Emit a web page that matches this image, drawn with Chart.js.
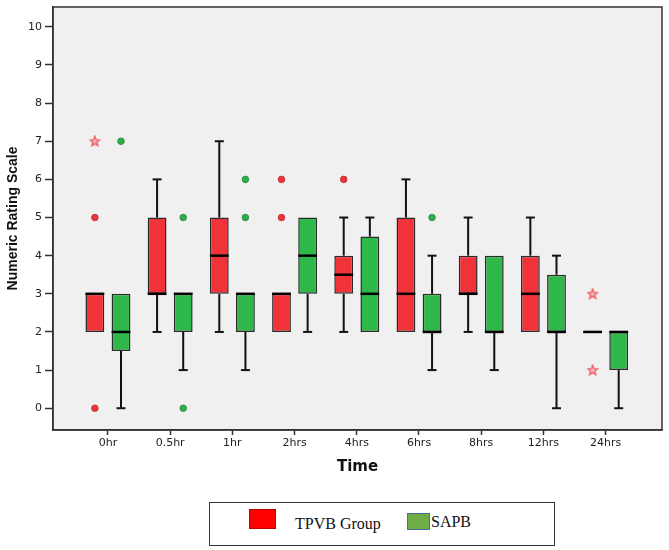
<!DOCTYPE html>
<html>
<head>
<meta charset="utf-8">
<script src="https://cdn.jsdelivr.net/npm/chart.js@4.4.1/dist/chart.umd.min.js"></script>
<style>
  html, body { margin: 0; padding: 0; background: #ffffff; }
  #wrap { position: relative; width: 669px; height: 550px; }
  #c { position: absolute; left: 0; top: 0; }
  #legend { position: absolute; left: 209px; top: 502px; width: 346px; height: 44px; border: 1px solid #333; box-sizing: border-box; font-family: "Liberation Serif", "Times New Roman", serif; font-size: 16px; color: #111; }
  .sw { position: absolute; box-sizing: border-box; }
  .lt { position: absolute; white-space: nowrap; line-height: 20px; }
</style>
</head>
<body>
<div id="wrap">
  <canvas id="c" width="669" height="495"></canvas>
  <div id="legend">
    <div class="sw" style="left:39px; top:6px; width:27px; height:20px; background:#ff0000; border:1px solid #c00000;"></div>
    <div class="lt" style="left:85px; top:11px;">TPVB Group</div>
    <div class="sw" style="left:197px; top:10px; width:23px; height:17px; background:#70ad47; border:1px solid #41719c;"></div>
    <div class="lt" style="left:221px; top:9px;">SAPB</div>
  </div>
</div>
<script>
// ---- data ----
const categories = ['0hr', '0.5hr', '1hr', '2hrs', '4hrs', '6hrs', '8hrs', '12hrs', '24hrs'];
const yTicks = [0, 1, 2, 3, 4, 5, 6, 7, 8, 9, 10];

const tpvbMin = [2, 2, 2, 2, 2, 2, 2, 2, 2];
const tpvbQ1  = [2, 3, 3, 2, 3, 2, 3, 2, 2];
const tpvbMed = [3, 3, 4, 3, 3.5, 3, 3, 3, 2];
const tpvbQ3  = [3, 5, 5, 3, 4, 5, 4, 4, 2];
const tpvbMax = [3, 6, 7, 3, 5, 6, 5, 5, 2];

const sapbMin = [0, 1, 1, 2, 2, 1, 1, 0, 0];
const sapbQ1  = [1.5, 2, 2, 3, 2, 2, 2, 2, 1];
const sapbMed = [2, 3, 3, 4, 3, 2, 2, 2, 2];
const sapbQ3  = [3, 3, 3, 5, 4.5, 3, 4, 3.5, 2];
const sapbMax = [3, 3, 3, 5, 5, 4, 4, 4, 2];

const tpvbOutlierCircles = [['0hr', 5], ['0hr', 0], ['2hrs', 5], ['2hrs', 6], ['4hrs', 6]];
const tpvbOutlierStars   = [['0hr', 7], ['24hrs', 3], ['24hrs', 1]];
const sapbOutlierCircles = [['0hr', 7], ['0.5hr', 5], ['0.5hr', 0], ['1hr', 5], ['1hr', 6], ['6hrs', 5]];

// ---- styling ----
const RED = '#ef3339';
const GREEN = '#2fb84a';
const CAT_PCT = 0.84;
const BAR_PCT = 0.72;
const GROUP_OFFSET = CAT_PCT / 4;
const TICK_FONT = 'DejaVu Sans, Verdana, sans-serif';

function starImage(color) {
  const c = document.createElement('canvas');
  c.width = 12; c.height = 12;
  const g = c.getContext('2d');
  g.strokeStyle = color; g.lineWidth = 1.2;
  g.fillStyle = 'rgba(240,80,92,0.35)';
  g.beginPath();
  for (let k = 0; k < 10; k++) {
    const r = k % 2 === 0 ? 5.2 : 2.2;
    const a = -Math.PI / 2 + k * Math.PI / 5;
    const px = 6 + r * Math.cos(a), py = 6.3 + r * Math.sin(a);
    if (k === 0) g.moveTo(px, py); else g.lineTo(px, py);
  }
  g.closePath(); g.fill(); g.stroke();
  return c;
}
const redStar = starImage('#f0505c');

function toPoints(list, off) {
  return list.map(([c, v]) => ({ x: categories.indexOf(c) + off, y: v }));
}

const boxStats = [
  { min: tpvbMin, q1: tpvbQ1, med: tpvbMed, q3: tpvbQ3, max: tpvbMax },
  { min: sapbMin, q1: sapbQ1, med: sapbMed, q3: sapbQ3, max: sapbMax }
];

const boxPlugin = {
  id: 'boxParts',
  beforeDraw(chart) {
    const a = chart.chartArea, ctx = chart.ctx;
    ctx.save();
    ctx.fillStyle = '#f0f0f0';
    ctx.fillRect(a.left, a.top, a.right - a.left, a.bottom - a.top);
    ctx.restore();
  },
  afterDatasetsDraw(chart) {
    const ctx = chart.ctx, ys = chart.scales.y;
    ctx.save();
    boxStats.forEach((s, d) => {
      const meta = chart.getDatasetMeta(d);
      meta.data.forEach((el, i) => {
        const x = el.x, w = el.width;
        const pQ1 = ys.getPixelForValue(s.q1[i]);
        const pQ3 = ys.getPixelForValue(s.q3[i]);
        const pMin = ys.getPixelForValue(s.min[i]);
        const pMax = ys.getPixelForValue(s.max[i]);
        const pMed = ys.getPixelForValue(s.med[i]);
        ctx.strokeStyle = '#111';
        ctx.lineWidth = 2;
        const cap = 9;
        if (s.max[i] > s.q3[i]) {
          ctx.beginPath(); ctx.moveTo(x, pQ3); ctx.lineTo(x, pMax); ctx.stroke();
          ctx.beginPath(); ctx.moveTo(x - cap / 2, pMax); ctx.lineTo(x + cap / 2, pMax); ctx.stroke();
        }
        if (s.min[i] < s.q1[i]) {
          ctx.beginPath(); ctx.moveTo(x, pQ1); ctx.lineTo(x, pMin); ctx.stroke();
          ctx.beginPath(); ctx.moveTo(x - cap / 2, pMin); ctx.lineTo(x + cap / 2, pMin); ctx.stroke();
        }
        ctx.strokeStyle = '#000';
        ctx.lineWidth = 2.5;
        ctx.beginPath(); ctx.moveTo(x - w / 2, pMed); ctx.lineTo(x + w / 2, pMed); ctx.stroke();
      });
    });
    ctx.restore();
  },
  afterDraw(chart) {
    const a = chart.chartArea, ctx = chart.ctx;
    ctx.save();
    ctx.strokeStyle = '#333';
    ctx.lineWidth = 1.5;
    ctx.strokeRect(a.left, a.top, a.right - a.left, a.bottom - a.top);
    ctx.restore();
  }
};

new Chart(document.getElementById('c'), {
  type: 'bar',
  data: {
    datasets: [
      {
        label: 'TPVB Group',
        data: categories.map((c, i) => ({ x: i, y: [tpvbQ1[i], tpvbQ3[i]] })),
        backgroundColor: RED, borderColor: '#2a2a2a', borderWidth: 1.5, borderSkipped: false,
        categoryPercentage: CAT_PCT, barPercentage: BAR_PCT, order: 2
      },
      {
        label: 'SAPB',
        data: categories.map((c, i) => ({ x: i, y: [sapbQ1[i], sapbQ3[i]] })),
        backgroundColor: GREEN, borderColor: '#2a2a2a', borderWidth: 1.5, borderSkipped: false,
        categoryPercentage: CAT_PCT, barPercentage: BAR_PCT, order: 2
      },
      {
        type: 'scatter', label: 'TPVB outliers',
        data: toPoints(tpvbOutlierCircles, -GROUP_OFFSET),
        pointStyle: 'circle', pointRadius: 3.3, backgroundColor: '#e8353b', borderColor: '#c0282d', borderWidth: 0.8, order: 1
      },
      {
        type: 'scatter', label: 'TPVB extremes',
        data: toPoints(tpvbOutlierStars, -GROUP_OFFSET),
        pointStyle: redStar, pointRadius: 6, order: 1
      },
      {
        type: 'scatter', label: 'SAPB outliers',
        data: toPoints(sapbOutlierCircles, GROUP_OFFSET),
        pointStyle: 'circle', pointRadius: 3.3, backgroundColor: '#2eae4a', borderColor: '#238a3a', borderWidth: 0.8, order: 1
      }
    ]
  },
  options: {
    responsive: false,
    animation: false,
    layout: { padding: { top: 3, right: 3, left: 0, bottom: 0 } },
    plugins: { legend: { display: false }, tooltip: { enabled: false } },
    scales: {
      x: {
        type: 'linear',
        offset: false,
        min: -0.883, max: 8.906,
        afterBuildTicks(ax) { ax.ticks = categories.map((c, i) => ({ value: i })); },
        afterFit(ax) { ax.height = 65; ax.paddingLeft = 0; ax.paddingRight = 0; },
        ticks: {
          callback: (v) => categories[v],
          color: '#222', font: { family: TICK_FONT, size: 11 },
          padding: 2, maxRotation: 0, autoSkip: false
        },
        grid: { offset: false, drawOnChartArea: false, drawTicks: true, tickLength: 5, color: '#333', tickWidth: 1.5 },
        border: { display: true, color: '#333', width: 1.5 },
        title: {
          display: true, text: 'Time', color: '#111',
          font: { family: 'DejaVu Sans, Verdana, sans-serif', size: 15, weight: 'bold' },
          padding: { top: 0, bottom: 19 }
        }
      },
      y: {
        type: 'linear',
        min: -0.571, max: 10.52,
        afterBuildTicks(ax) { ax.ticks = yTicks.map(v => ({ value: v })); },
        afterFit(ax) { ax.width = 53; ax.paddingTop = 0; ax.paddingBottom = 0; },
        ticks: {
          color: '#222', font: { family: TICK_FONT, size: 11 },
          padding: 3
        },
        grid: { drawOnChartArea: false, drawTicks: true, tickLength: 8, color: '#333', tickWidth: 1.5 },
        border: { display: true, color: '#333', width: 1.5 },
        title: {
          display: true, text: 'Numeric Rating Scale', color: '#111',
          font: { family: 'Liberation Sans, Arial, sans-serif', size: 14, weight: 'bold' },
          padding: { top: 5, bottom: 0 }
        }
      }
    }
  },
  plugins: [boxPlugin]
});
</script>
</body>
</html>
